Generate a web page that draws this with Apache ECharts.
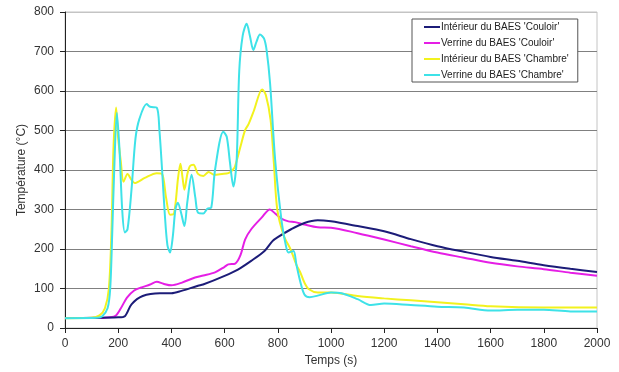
<!DOCTYPE html>
<html><head><meta charset="utf-8">
<script src="https://cdn.jsdelivr.net/npm/echarts@6/dist/echarts.min.js"></script>
<style>html,body{margin:0;padding:0;background:#fff}#c{width:619px;height:372px}</style>
</head><body><div id="c"></div>
<script>
var seriesNames = ["Intérieur du BAES 'Couloir'", "Verrine du BAES 'Couloir'", "Intérieur du BAES 'Chambre'", "Verrine du BAES 'Chambre'"];
var xTicks = [0,200,400,600,800,1000,1200,1400,1600,1800,2000];
var yTicks = [0,100,200,300,400,500,600,700,800];

var timeCouloirInt = [0,200,225,250,292,357,400,438,500,519,600,650,700,750,780,800,850,900,950,1000,1100,1200,1300,1400,1500,1600,1700,1800,1900,2000];
var tempCouloirInt = [25,27,30,60,81,88,88,94,107,110,132,148,170,195,220,230,250,266,273,270,258,245,225,207,193,180,170,159,150,142];

var timeCouloirVer = [115,150,188,210,233,260,284,320,345,370,400,440,489,520,564,600,614,640,660,677,700,740,770,790,815,840,865,900,950,1000,1100,1200,1300,1400,1500,1600,1700,1800,1900,2000];
var tempCouloirVer = [25,26,30,50,77,95,102,110,117,112,108,115,128,133,141,155,161,163,185,224,250,280,300,290,276,270,268,262,255,254,240,224,207,191,178,165,156,149,140,132];

var timeChambreInt = [0,100,130,150,165,175,182,192,200,210,220,235,250,262,300,345,365,380,395,410,425,434,442,449,460,470,483,500,520,540,560,590,614,630,639,660,677,690,710,741,755,773,785,798,823,848,870,885,900,917,950,1000,1100,1200,1300,1400,1500,1600,1800,2000];
var tempChambreInt = [25,26,32,50,100,250,450,558,480,420,370,390,375,367,380,392,390,330,287,290,380,416,380,350,390,410,413,390,385,395,388,390,392,400,409,460,501,516,550,604,590,526,420,300,233,199,160,140,115,98,90,90,81,75,70,65,60,55,52,52];

var timeChambreVer = [0,120,140,160,170,178,185,195,205,215,225,235,250,265,280,307,320,345,355,365,375,385,395,405,415,424,437,449,460,476,490,500,520,535,550,564,595,608,620,633,645,655,668,683,695,708,720,733,748,758,771,790,815,830,840,859,870,885,900,920,950,1000,1040,1100,1150,1200,1300,1400,1500,1600,1700,1800,1900,2000];
var tempChambreVer = [25,26,30,50,100,250,400,545,450,300,242,250,350,480,530,567,560,558,500,400,290,210,191,230,300,317,290,258,320,388,330,292,290,302,305,400,497,484,420,358,420,650,740,770,740,704,725,743,733,703,619,426,267,210,191,195,160,116,85,78,82,90,88,73,58,62,58,54,52,44,46,46,42,42];

function zip(t, v){ return t.map(function(x,i){ return [x, v[i]]; }); }

var colors = ['#1c1c78', '#e51ee5', '#f2f21e', '#3ee2e8'];
var font = 'Liberation Sans, Arial, sans-serif';

var chart = echarts.init(document.getElementById('c'));
var data = [zip(timeCouloirInt,tempCouloirInt), zip(timeCouloirVer,tempCouloirVer), zip(timeChambreInt,tempChambreInt), zip(timeChambreVer,tempChambreVer)];
var order = [1,0,2,3];
chart.setOption({
  animation: false,
  backgroundColor: '#fff',
  grid: {left: 65, right: 22, top: 12, bottom: 43, show: true, borderColor: '#c4c4c4', borderWidth: 1},
  legend: {
    orient: 'vertical', left: 412, top: 19,
    backgroundColor: '#fff', borderColor: '#555', borderWidth: 1,
    padding: [3, 9, 2, 12], itemGap: 6, itemWidth: 16, itemHeight: 2,
    icon: 'rect',
    textStyle: {fontFamily: font, fontSize: 10, color: '#222', padding: [0,0,0,-4]},
    data: seriesNames
  },
  xAxis: {
    type: 'value', min: 0, max: 2000, interval: 200,
    name: 'Temps (s)', nameLocation: 'middle', nameGap: 27, nameMoveOverlap: false,
    nameTextStyle: {fontFamily: font, fontSize: 12, color: '#333'},
    axisLine: {show: true, lineStyle: {color: '#222', width: 1}},
    axisTick: {show: true, length: 5, lineStyle: {color: '#222'}},
    axisLabel: {fontFamily: font, fontSize: 12, color: '#333', margin: 10,
      formatter: function(v){ return xTicks.indexOf(v) >= 0 ? String(v) : ''; }},
    splitLine: {show: false}
  },
  yAxis: {
    type: 'value', min: 0, max: 800, interval: 100,
    name: 'Température (°C)', nameLocation: 'middle', nameGap: 37, nameMoveOverlap: false,
    nameTextStyle: {fontFamily: font, fontSize: 12, color: '#333'},
    axisLine: {show: true, lineStyle: {color: '#222', width: 1}},
    axisTick: {show: true, length: 5, lineStyle: {color: '#222'}},
    axisLabel: {fontFamily: font, fontSize: 12, color: '#333', margin: 11,
      formatter: function(v){ return yTicks.indexOf(v) >= 0 ? String(v) : ''; }},
    splitLine: {show: true, lineStyle: {color: ['#808080','#808080','#808080','#808080','#808080','#808080','#808080','#808080','#c4c4c4'], width: 1}}
  },
  series: order.map(function(i){
    return {
      name: seriesNames[i], type: 'line', data: data[i], showSymbol: false,
      smooth: 0.3,
      lineStyle: {color: colors[i], width: 2}, itemStyle: {color: colors[i]}
    };
  })
});
</script></body></html>
